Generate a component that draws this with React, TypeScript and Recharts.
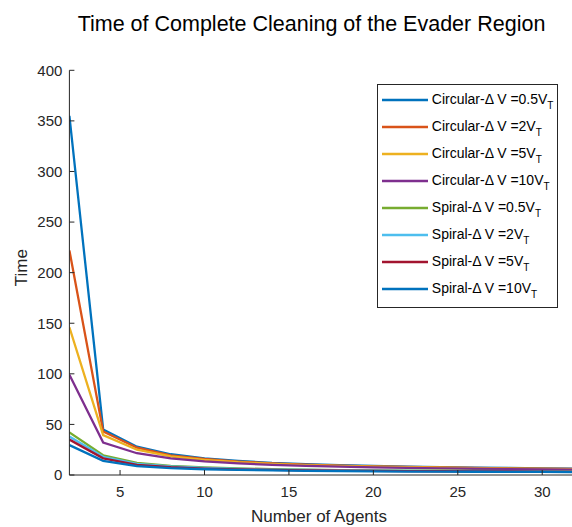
import React from 'react';
import { LineChart, Line, XAxis, YAxis, Legend, Label } from 'recharts';

const agents = [2, 4, 6, 8, 10, 12, 14, 16, 18, 20, 22, 24, 26, 28, 30, 32];

const circular05 = [355, 45, 28, 20.5, 16.5, 14, 12, 10.8, 9.8, 9, 8.3, 7.8, 7.3, 6.9, 6.5, 6.2];
const circular2 = [222, 43, 27, 19.5, 15.8, 13.3, 11.5, 10.3, 9.3, 8.6, 8, 7.5, 7, 6.6, 6.3, 6];
const circular5 = [146, 39.5, 25, 18.5, 15, 12.6, 11, 9.8, 9, 8.3, 7.7, 7.2, 6.8, 6.4, 6.1, 5.8];
const circular10 = [99, 32, 21.5, 16.5, 13.5, 11.5, 10, 9, 8.2, 7.6, 7, 6.6, 6.2, 5.9, 5.6, 5.3];
const spiral05 = [42, 19.5, 12, 9, 7.5, 6.5, 5.8, 5.3, 4.9, 4.6, 4.4, 4.2, 4, 3.9, 3.8, 3.7];
const spiral2 = [38, 18, 11, 8.5, 7, 6.1, 5.4, 5, 4.6, 4.3, 4.1, 3.9, 3.8, 3.7, 3.6, 3.5];
const spiral5 = [35, 16.5, 10, 7.7, 6.4, 5.6, 5, 4.6, 4.3, 4, 3.8, 3.7, 3.6, 3.5, 3.4, 3.3];
const spiral10 = [29.5, 14, 8.8, 6.8, 5.7, 5, 4.5, 4.1, 3.8, 3.6, 3.4, 3.3, 3.2, 3.1, 3, 2.9];

const seriesNames = [
  'Circular-\u0394 V =0.5V',
  'Circular-\u0394 V =2V',
  'Circular-\u0394 V =5V',
  'Circular-\u0394 V =10V',
  'Spiral-\u0394 V =0.5V',
  'Spiral-\u0394 V =2V',
  'Spiral-\u0394 V =5V',
  'Spiral-\u0394 V =10V',
];
const seriesValues = [circular05, circular2, circular5, circular10, spiral05, spiral2, spiral5, spiral10];
const seriesColors = ['#0072BD', '#D95319', '#EDB120', '#7E2F8E', '#77AC30', '#4DBEEE', '#A2142F', '#0072BD'];

const xTicks = [5, 10, 15, 20, 25, 30];
const yTicks = [0, 50, 100, 150, 200, 250, 300, 350, 400];

const titleText = 'Time of Complete Cleaning of the Evader Region';
const xLabel = 'Number of Agents';
const yLabel = 'Time';

const data = agents.map((a, i) => {
  const row: Record<string, number> = { agents: a };
  seriesValues.forEach((vals, s) => {
    row['s' + s] = vals[i];
  });
  return row;
});

const FONT = '"Liberation Sans", Arial, Helvetica, sans-serif';
const AXIS = '#262626';

const renderLegend = (props: any) => {
  const payload = [...(props.payload || [])].sort(
    (a: any, b: any) => Number(String(a.dataKey).slice(1)) - Number(String(b.dataKey).slice(1))
  );
  return (
    <div
      style={{
        boxSizing: 'border-box',
        width: 181,
        height: 224,
        border: '1px solid #262626',
        background: '#fff',
        paddingTop: 1,
        fontFamily: FONT,
      }}
    >
      {payload.map((p: any, i: number) => (
        <div key={i} style={{ height: 27.1, display: 'flex', alignItems: 'center' }}>
          <svg width={46} height={4} style={{ marginLeft: 3.8, marginRight: 4, display: 'block' }}>
            <line x1={0} x2={46} y1={2} y2={2} stroke={p.color} strokeWidth={2.4} />
          </svg>
          <span style={{ fontSize: 14, color: '#000', whiteSpace: 'nowrap', lineHeight: '16px' }}>
            {p.value}
            <span style={{ fontSize: 10, position: 'relative', top: 5 }}>T</span>
          </span>
        </div>
      ))}
    </div>
  );
};

export default function App() {
  return (
    <div
      style={{
        position: 'fixed',
        left: 0,
        top: 0,
        width: 572,
        height: 527,
        overflow: 'hidden',
        background: '#fff',
      }}
    >
      <div
        style={{
          position: 'absolute',
          left: 0,
          width: 623,
          top: 12,
          textAlign: 'center',
          fontFamily: FONT,
          fontSize: 21.5,
          color: '#000',
          whiteSpace: 'nowrap',
        }}
      >
        {titleText}
      </div>
      <LineChart
        width={590}
        height={527}
        data={data}
        margin={{ top: 70.3, right: 14, bottom: 0, left: 0 }}
        style={{ position: 'absolute', left: 0, top: 0 }}
      >
        <XAxis
          dataKey="agents"
          type="number"
          domain={[2, 32]}
          ticks={xTicks}
          allowDataOverflow
          height={52}
          stroke={AXIS}
          tickSize={-5}
          tickMargin={16}
          tick={{ fill: AXIS, fontSize: 15, fontFamily: FONT }}
        >
          <Label
            content={() => (
              <text x={319} y={522} textAnchor="middle" fontSize={17} fontFamily={FONT} fill={AXIS}>
                {xLabel}
              </text>
            )}
          />
        </XAxis>
        <YAxis
          type="number"
          domain={[0, 400]}
          ticks={yTicks}
          width={69.4}
          stroke={AXIS}
          tickSize={-5}
          tickMargin={12}
          tick={{ fill: AXIS, fontSize: 15, fontFamily: FONT }}
        >
          <Label
            content={() => (
              <text
                x={27}
                y={267.6}
                transform="rotate(-90 27 267.6)"
                textAnchor="middle"
                fontSize={17}
                fontFamily={FONT}
                fill={AXIS}
              >
                {yLabel}
              </text>
            )}
          />
        </YAxis>
        <Legend
          layout="vertical"
          align="center"
          verticalAlign="middle"
          content={renderLegend}
          wrapperStyle={{ position: 'absolute', left: 377, top: 84, width: 181, height: 224 }}
        />
        {seriesNames.map((name, s) => (
          <Line
            key={name + s}
            type="linear"
            dataKey={'s' + s}
            name={name}
            stroke={seriesColors[s]}
            strokeWidth={2.3}
            dot={false}
            isAnimationActive={false}
          />
        ))}
      </LineChart>
    </div>
  );
}
